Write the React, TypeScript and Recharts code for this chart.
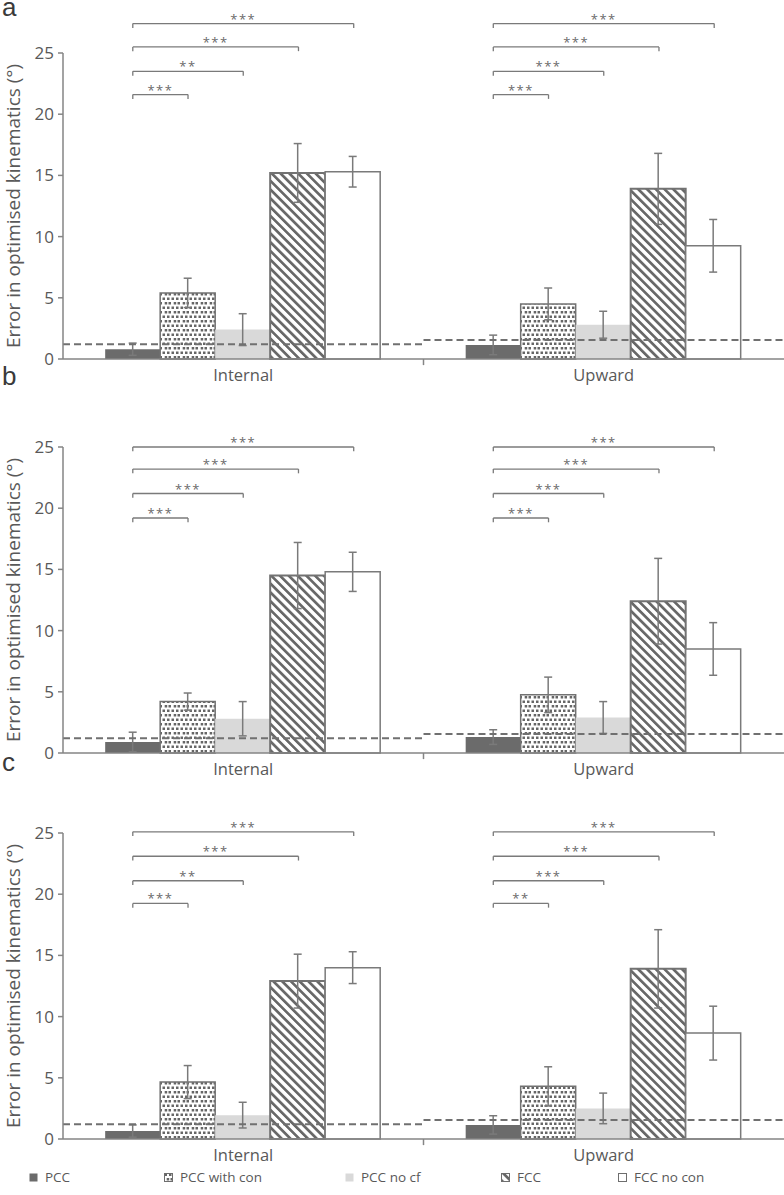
import React from 'react';
import { ComposedChart, Bar, XAxis, YAxis, ErrorBar, ReferenceLine, Label } from 'recharts';

const categories = ['Internal', 'Upward'];
const seriesNames = ['PCC', 'PCC with con', 'PCC no cf', 'FCC', 'FCC no con'];
const yTicks = [0, 5, 10, 15, 20, 25];

// dashed reference level per category
const refLevel = [1.2, 1.55];

// panel a
const aInternal = [0.8, 5.4, 2.4, 15.2, 15.3];
const aInternalErr = [0.5, 1.2, 1.3, 2.4, 1.25];
const aUpward = [1.15, 4.5, 2.8, 13.9, 9.25];
const aUpwardErr = [0.8, 1.3, 1.1, 2.9, 2.15];
const aStars = [['***', '**', '***', '***'], ['***', '***', '***', '***']];
const aLevels = [21.6, 23.5, 25.5, 27.4];

// panel b
const bInternal = [0.9, 4.2, 2.8, 14.5, 14.8];
const bInternalErr = [0.8, 0.7, 1.4, 2.7, 1.6];
const bUpward = [1.3, 4.75, 2.9, 12.4, 8.5];
const bUpwardErr = [0.6, 1.45, 1.3, 3.5, 2.15];
const bStars = [['***', '***', '***', '***'], ['***', '***', '***', '***']];
const bLevels = [19.2, 21.2, 23.2, 25.0];

// panel c
const cInternal = [0.65, 4.65, 1.95, 12.9, 14.0];
const cInternalErr = [0.5, 1.35, 1.05, 2.2, 1.3];
const cUpward = [1.15, 4.3, 2.5, 13.9, 8.65];
const cUpwardErr = [0.75, 1.6, 1.25, 3.2, 2.2];
const cStars = [['***', '**', '***', '***'], ['**', '***', '***', '***']];
const cLevels = [19.25, 21.1, 23.1, 25.1];

const panels = [
  { letter: 'a', top: 0, letterTop: 0, values: [aInternal, aUpward], errors: [aInternalErr, aUpwardErr], stars: aStars, levels: aLevels },
  { letter: 'b', top: 394, letterTop: -25, values: [bInternal, bUpward], errors: [bInternalErr, bUpwardErr], stars: bStars, levels: bLevels },
  { letter: 'c', top: 780, letterTop: -25, values: [cInternal, cUpward], errors: [cInternalErr, cUpwardErr], stars: cStars, levels: cLevels },
];

const AXIS = '#858585';
const TEXT = '#595959';
const GAP = 0.117;

const barStyles = [
  { fill: '#6b6b6b' },
  { fill: 'url(#dots)', stroke: '#727272', strokeWidth: 1.5 },
  { fill: '#d9d9d9' },
  { fill: 'url(#stripes)', stroke: '#727272', strokeWidth: 2 },
  { fill: '#ffffff', stroke: '#7a7a7a', strokeWidth: 1.5 },
];

// centre of bar k inside a category band, in band units
const barCenter = (k: number) => GAP + (k + 0.5) * (1 - 2 * GAP) / 5;

function Patterns() {
  return (
    <svg width={0} height={0} style={{ position: 'absolute' }}>
      <defs>
        <pattern id="dots" patternUnits="userSpaceOnUse" width={9} height={9}>
          <rect width={9} height={9} fill="#fff" />
          <rect x={0.5} y={0.5} width={2.5} height={2.5} fill="#666" />
          <rect x={5} y={0.5} width={2.5} height={2.5} fill="#666" />
          <rect x={2.7} y={5} width={2.5} height={2.5} fill="#666" />
          <rect x={6.5} y={5} width={2.5} height={2.5} fill="#666" />
        </pattern>
        <pattern id="stripes" patternUnits="userSpaceOnUse" width={6.2} height={6.2} patternTransform="rotate(-45)">
          <rect width={6.2} height={6.2} fill="#fff" />
          <rect x={0} y={0} width={2.7} height={6.2} fill="#686868" />
        </pattern>
      </defs>
    </svg>
  );
}

function Panel({ p }: { p: typeof panels[number] }) {
  const data = categories.map((cat, ci) => {
    const row: any = { cat, pos: ci + 0.5 };
    seriesNames.forEach((_, si) => {
      row['v' + si] = p.values[ci][si];
      row['e' + si] = p.errors[ci][si];
    });
    return row;
  });

  const brackets: any[] = [];
  categories.forEach((_, ci) => {
    for (let j = 1; j <= 4; j++) {
      const x1 = ci + barCenter(0);
      const x2 = ci + barCenter(j);
      const y = p.levels[j - 1];
      const key = `${ci}-${j}`;
      brackets.push(
        <ReferenceLine key={'h' + key} xAxisId="num" ifOverflow="visible" stroke="#7a7a7a" strokeWidth={1.3}
          segment={[{ x: x1, y }, { x: x2, y }]}
          label={{ value: p.stars[ci][j - 1], position: 'top', fill: '#6a6a6a', fontSize: 13, offset: 0, letterSpacing: 1.5 }} />,
        <ReferenceLine key={'l' + key} xAxisId="num" ifOverflow="visible" stroke="#7a7a7a" strokeWidth={1.3}
          segment={[{ x: x1, y }, { x: x1, y: y - 0.35 }]} />,
        <ReferenceLine key={'r' + key} xAxisId="num" ifOverflow="visible" stroke="#7a7a7a" strokeWidth={1.3}
          segment={[{ x: x2, y }, { x: x2, y: y - 0.35 }]} />
      );
    }
  });

  return (
    <div style={{ position: 'absolute', left: 0, top: p.top }}>
      <ComposedChart width={784} height={389} data={data} barCategoryGap={`${GAP * 100}%`} barGap={0}
        margin={{ top: 53, right: 0, left: 0, bottom: 0 }}>
        <XAxis xAxisId="cat" dataKey="cat" height={30} tickLine={false} tickMargin={4}
          axisLine={{ stroke: AXIS, strokeWidth: 1.5 }} tick={{ fill: TEXT, fontSize: 16.5 }} />
        <XAxis xAxisId="num" dataKey="pos" type="number" domain={[0, 2]} allowDataOverflow hide />
        <YAxis width={63} domain={[0, 25]} ticks={yTicks} tickSize={5} tickMargin={4}
          axisLine={{ stroke: AXIS, strokeWidth: 1.5 }} tickLine={{ stroke: AXIS, strokeWidth: 1.5 }}
          tick={{ fill: TEXT, fontSize: 17 }}>
          <Label value="Error in optimised kinematics (°)" angle={-90} position="insideLeft" offset={13}
            fill={TEXT} fontSize={19} style={{ textAnchor: 'middle' }} />
        </YAxis>
        {seriesNames.map((name, si) => (
          <Bar key={name} xAxisId="cat" dataKey={'v' + si} name={name} isAnimationActive={false} {...barStyles[si]}>
            <ErrorBar dataKey={'e' + si} width={4} stroke="#7a7a7a" strokeWidth={1.5} direction="y" isAnimationActive={false} />
          </Bar>
        ))}
        {categories.map((cat, ci) => (
          <ReferenceLine key={'ref' + cat} xAxisId="num" ifOverflow="visible" stroke="#707070" strokeWidth={2}
            strokeDasharray="7 4" segment={[{ x: ci, y: refLevel[ci] }, { x: ci + 1, y: refLevel[ci] }]} />
        ))}
        <ReferenceLine xAxisId="num" ifOverflow="visible" stroke={AXIS} strokeWidth={1.5}
          segment={[{ x: 1, y: 0 }, { x: 1, y: -0.5 }]} />
        {brackets}
      </ComposedChart>
      <div style={{ position: 'absolute', left: 2, top: p.letterTop, fontSize: 26, lineHeight: '14px', color: '#3a3a3a', fontFamily: 'Liberation Sans, sans-serif' }}>
        {p.letter}
      </div>
    </div>
  );
}

const legendX = [29, 164, 345, 501, 618];

function LegendRow() {
  return (
    <div style={{ position: 'absolute', top: 1168, left: 0, width: 784, height: 20 }}>
      {seriesNames.map((name, si) => (
        <div key={name} style={{ position: 'absolute', left: legendX[si], top: 0, display: 'flex', alignItems: 'center', fontSize: 13.5, color: TEXT }}>
          <svg width={9} height={9} style={{ marginRight: 7 }}>
            <rect x={0.5} y={0.5} width={8} height={8} fill={barStyles[si].fill}
              stroke={barStyles[si].stroke ? '#6e6e6e' : 'none'} strokeWidth={1} />
          </svg>
          <span>{name}</span>
        </div>
      ))}
    </div>
  );
}

export default function App() {
  return (
    <div style={{ position: 'absolute', left: 0, top: 0, width: 784, height: 1195, background: '#fff', fontFamily: "'Open Sans', sans-serif" }}>
      <Patterns />
      {panels.map((p) => (
        <Panel key={p.letter} p={p} />
      ))}
      <LegendRow />
    </div>
  );
}
